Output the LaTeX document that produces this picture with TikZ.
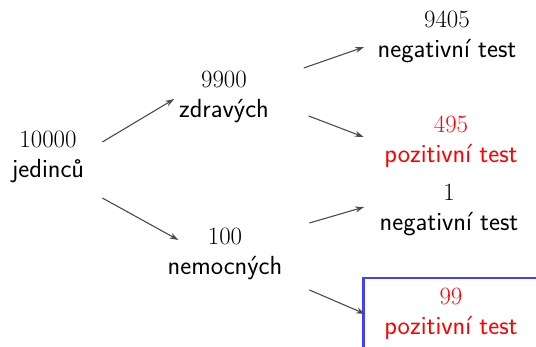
\documentclass[tikz,border=0pt]{standalone}
\usepackage{fontspec}
\usetikzlibrary{arrows.meta}
\newcommand\cislo[1]{{\Huge$#1$}}

\begin{document}
\begin{tikzpicture}[x=1pt,y=-1pt,
        stav/.style={align=center,inner sep=0pt,font=\fontsize{26.2}{30}\selectfont\sffamily},
        pozit/.style={stav,text=red},
        sipka/.style={-{Stealth[length=9pt,width=6pt]},draw=black!70,line width=1.1pt}]
      \useasboundingbox (0,0) rectangle (536,347);
      % strom: vsichni -> zdravi/nemocni -> vysledek testu
      \node [stav]  (root)    at (48,157)  {\cislo{10000}\\jedinců};
      \node [stav]  (zdravi)  at (224,97)  {\cislo{9900}\\zdravých};
      \node [stav]  (nemocni) at (225,254) {\cislo{100}\\nemocných};
      \node [stav]  (zneg)    at (447,37)  {\cislo{9405}\\negativní test};
      \node [pozit] (zpoz)    at (451,142) {\cislo{495}\\pozitivní test};
      \node [stav]  (nneg)    at (449,210) {\cislo{1}\\negativní test};
      \node [pozit,draw=blue!75,line width=2.5pt,inner xsep=21pt,inner ysep=10.5pt]
                    (npoz)    at (451,314) {\cislo{99}\\pozitivní test};
      \draw[sipka] ([xshift=18pt,yshift=15pt]root.east)   -- ([xshift=-4.6pt,yshift=-2pt]zdravi.west);
      \draw[sipka] ([xshift=18pt,yshift=-41pt]root.east)  -- ([xshift=11pt,yshift=14pt]nemocni.west);
      \draw[sipka] ([xshift=34.6pt,yshift=29pt]zdravi.east) -- ([xshift=-13.3pt,yshift=-10pt]zneg.west);
      \draw[sipka] ([xshift=39.6pt,yshift=-19pt]zdravi.east) -- ([xshift=-20.5pt,yshift=5pt]zpoz.west);
      \draw[sipka] ([xshift=26.9pt,yshift=31pt]nemocni.east) -- ([xshift=-15.3pt,yshift=3pt]nneg.west);
      \draw[sipka] ([xshift=26.9pt,yshift=-36pt]nemocni.east) -- ([xshift=3pt]npoz.west);
\end{tikzpicture}
\end{document}
